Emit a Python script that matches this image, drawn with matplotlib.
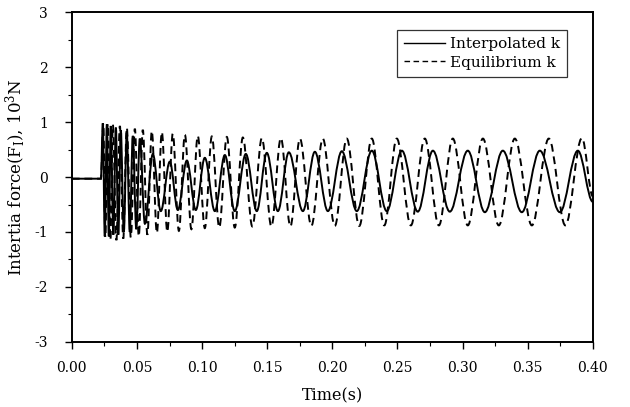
import matplotlib
matplotlib.use("Agg")
import matplotlib.pyplot as plt
from matplotlib.path import Path
from matplotlib.patches import PathPatch
from matplotlib.lines import Line2D
from matplotlib.ticker import MultipleLocator, FormatStrFormatter

# ---- data: turning points (extrema) ----
interp_t = [0.0, 0.0223, 0.0238, 0.0253, 0.0269, 0.0284, 0.0299, 0.0319, 0.0338,
            0.0357, 0.0376, 0.0399, 0.0422, 0.0445, 0.0468, 0.0495, 0.0522,
            0.0561, 0.0622, 0.0683, 0.0752, 0.0814, 0.0883, 0.0952, 0.1021,
            0.1098, 0.1175, 0.1251, 0.1336, 0.1420, 0.1497, 0.1582, 0.1666,
            0.1774, 0.1866, 0.1966, 0.2073, 0.2188, 0.2303, 0.2418, 0.2534,
            0.2656, 0.2772, 0.2902, 0.3040, 0.3171, 0.3309, 0.3455, 0.3593,
            0.3747, 0.3885, 0.4000]
interp_f = [-0.03, -0.03, 0.98, -1.08, 0.96, -1.08, 0.93, -1.05, 0.90,
            -1.05, 0.85, -1.00, 0.80, -1.00, 0.75, -0.95, 0.70,
            -0.85, 0.42, -0.62, 0.28, -0.60, 0.30, -0.60, 0.35,
            -0.62, 0.40, -0.62, 0.42, -0.62, 0.44, -0.62, 0.45,
            -0.62, 0.46, -0.62, 0.47, -0.62, 0.48, -0.62, 0.48,
            -0.63, 0.48, -0.63, 0.48, -0.64, 0.48, -0.64, 0.48,
            -0.64, 0.48, -0.45]

equil_t = [0.0, 0.0223, 0.0242, 0.0257, 0.0276, 0.0296, 0.0315, 0.0342, 0.0369,
           0.0395, 0.0422, 0.0453, 0.0484, 0.0514, 0.0545, 0.0580, 0.0614,
           0.0653, 0.0691, 0.0733, 0.0775, 0.0822, 0.0868, 0.0918, 0.0967,
           0.1021, 0.1075, 0.1132, 0.1190, 0.1251, 0.1313, 0.1386, 0.1459,
           0.1532, 0.1605, 0.1678, 0.1751, 0.1839, 0.1927, 0.2019, 0.2111,
           0.2207, 0.2303, 0.2399, 0.2495, 0.2603, 0.2710, 0.2818, 0.2925,
           0.3040, 0.3156, 0.3278, 0.3401, 0.3532, 0.3662, 0.3789, 0.3916,
           0.4000]
equil_f = [-0.03, -0.03, 0.97, -1.10, 0.97, -1.15, 0.95, -1.15, 0.93,
           -1.12, 0.90, -1.10, 0.88, -1.08, 0.86, -1.05, 0.84,
           -1.02, 0.82, -1.00, 0.79, -0.98, 0.77, -0.95, 0.75,
           -0.93, 0.74, -0.92, 0.73, -0.92, 0.72, -0.90, 0.71,
           -0.90, 0.71, -0.90, 0.70, -0.89, 0.70, -0.89, 0.70,
           -0.89, 0.70, -0.88, 0.70, -0.88, 0.70, -0.88, 0.70,
           -0.88, 0.70, -0.88, 0.70, -0.88, 0.70, -0.88, 0.71,
           -0.35]

series_labels = ["Interpolated k", "Equilibrium k"]
x_ticks = [0.00, 0.05, 0.10, 0.15, 0.20, 0.25, 0.30, 0.35, 0.40]
y_ticks = [-3, -2, -1, 0, 1, 2, 3]

plt.rcParams['font.family'] = ['DejaVu Serif']
plt.rcParams['mathtext.fontset'] = 'dejavuserif'
plt.rcParams['axes.unicode_minus'] = False

fig = plt.figure(figsize=(6.30, 4.07), dpi=100)
ax = fig.add_axes([0.114, 0.160, 0.827, 0.810])


def smooth_path(ts, fs):
    """Smooth curve through turning points with horizontal tangents (Bezier)."""
    verts = [(ts[0], fs[0])]
    codes = [Path.MOVETO]
    for i in range(len(ts) - 1):
        x0, y0, x1, y1 = ts[i], fs[i], ts[i + 1], fs[i + 1]
        d = x1 - x0
        verts += [(x0 + 0.36 * d, y0), (x1 - 0.36 * d, y1), (x1, y1)]
        codes += [Path.CURVE4] * 3
    return Path(verts, codes)


ax.add_patch(PathPatch(smooth_path(interp_t, interp_f), fill=False,
                       edgecolor='black', linewidth=1.4, linestyle='-',
                       transform=ax.transData, zorder=3))
ax.add_patch(PathPatch(smooth_path(equil_t, equil_f), fill=False,
                       edgecolor='black', linewidth=1.4, linestyle=(0, (4, 2.5)),
                       transform=ax.transData, zorder=3))

ax.set_xlim(0.0, 0.40)
ax.set_ylim(-3, 3)
ax.set_xticks(x_ticks)
ax.set_yticks(y_ticks)
ax.xaxis.set_major_formatter(FormatStrFormatter('%.2f'))
ax.xaxis.set_minor_locator(MultipleLocator(0.025))
ax.yaxis.set_minor_locator(MultipleLocator(0.5))
ax.tick_params(axis='both', which='major', direction='out', length=5, width=1,
               labelsize=10, top=False, right=False)
ax.tick_params(axis='x', which='major', pad=9)
ax.tick_params(axis='y', which='major', pad=12)
ax.tick_params(axis='both', which='minor', direction='out', length=3, width=0.8,
               top=False, right=False)
for s in ax.spines.values():
    s.set_linewidth(1.4)

ax.set_xlabel("Time(s)", fontsize=11.5, labelpad=9)
ax.set_ylabel("Intertia force(F$_{\\mathrm{I}}$), 10$^{3}$N", fontsize=12, labelpad=5)

handles = [Line2D([], [], color='black', linewidth=1.0, linestyle='-'),
           Line2D([], [], color='black', linewidth=1.0, linestyle=(0, (4, 2.5)))]
leg = ax.legend(handles, series_labels, loc='upper right',
                bbox_to_anchor=(0.95, 0.945), fontsize=11, frameon=True,
                fancybox=False, handlelength=2.7, handletextpad=0.3,
                borderpad=0.45, labelspacing=0.3, borderaxespad=0)
leg.get_frame().set_edgecolor('black')
leg.get_frame().set_linewidth(0.9)

fig.savefig("out.png", dpi=100)
